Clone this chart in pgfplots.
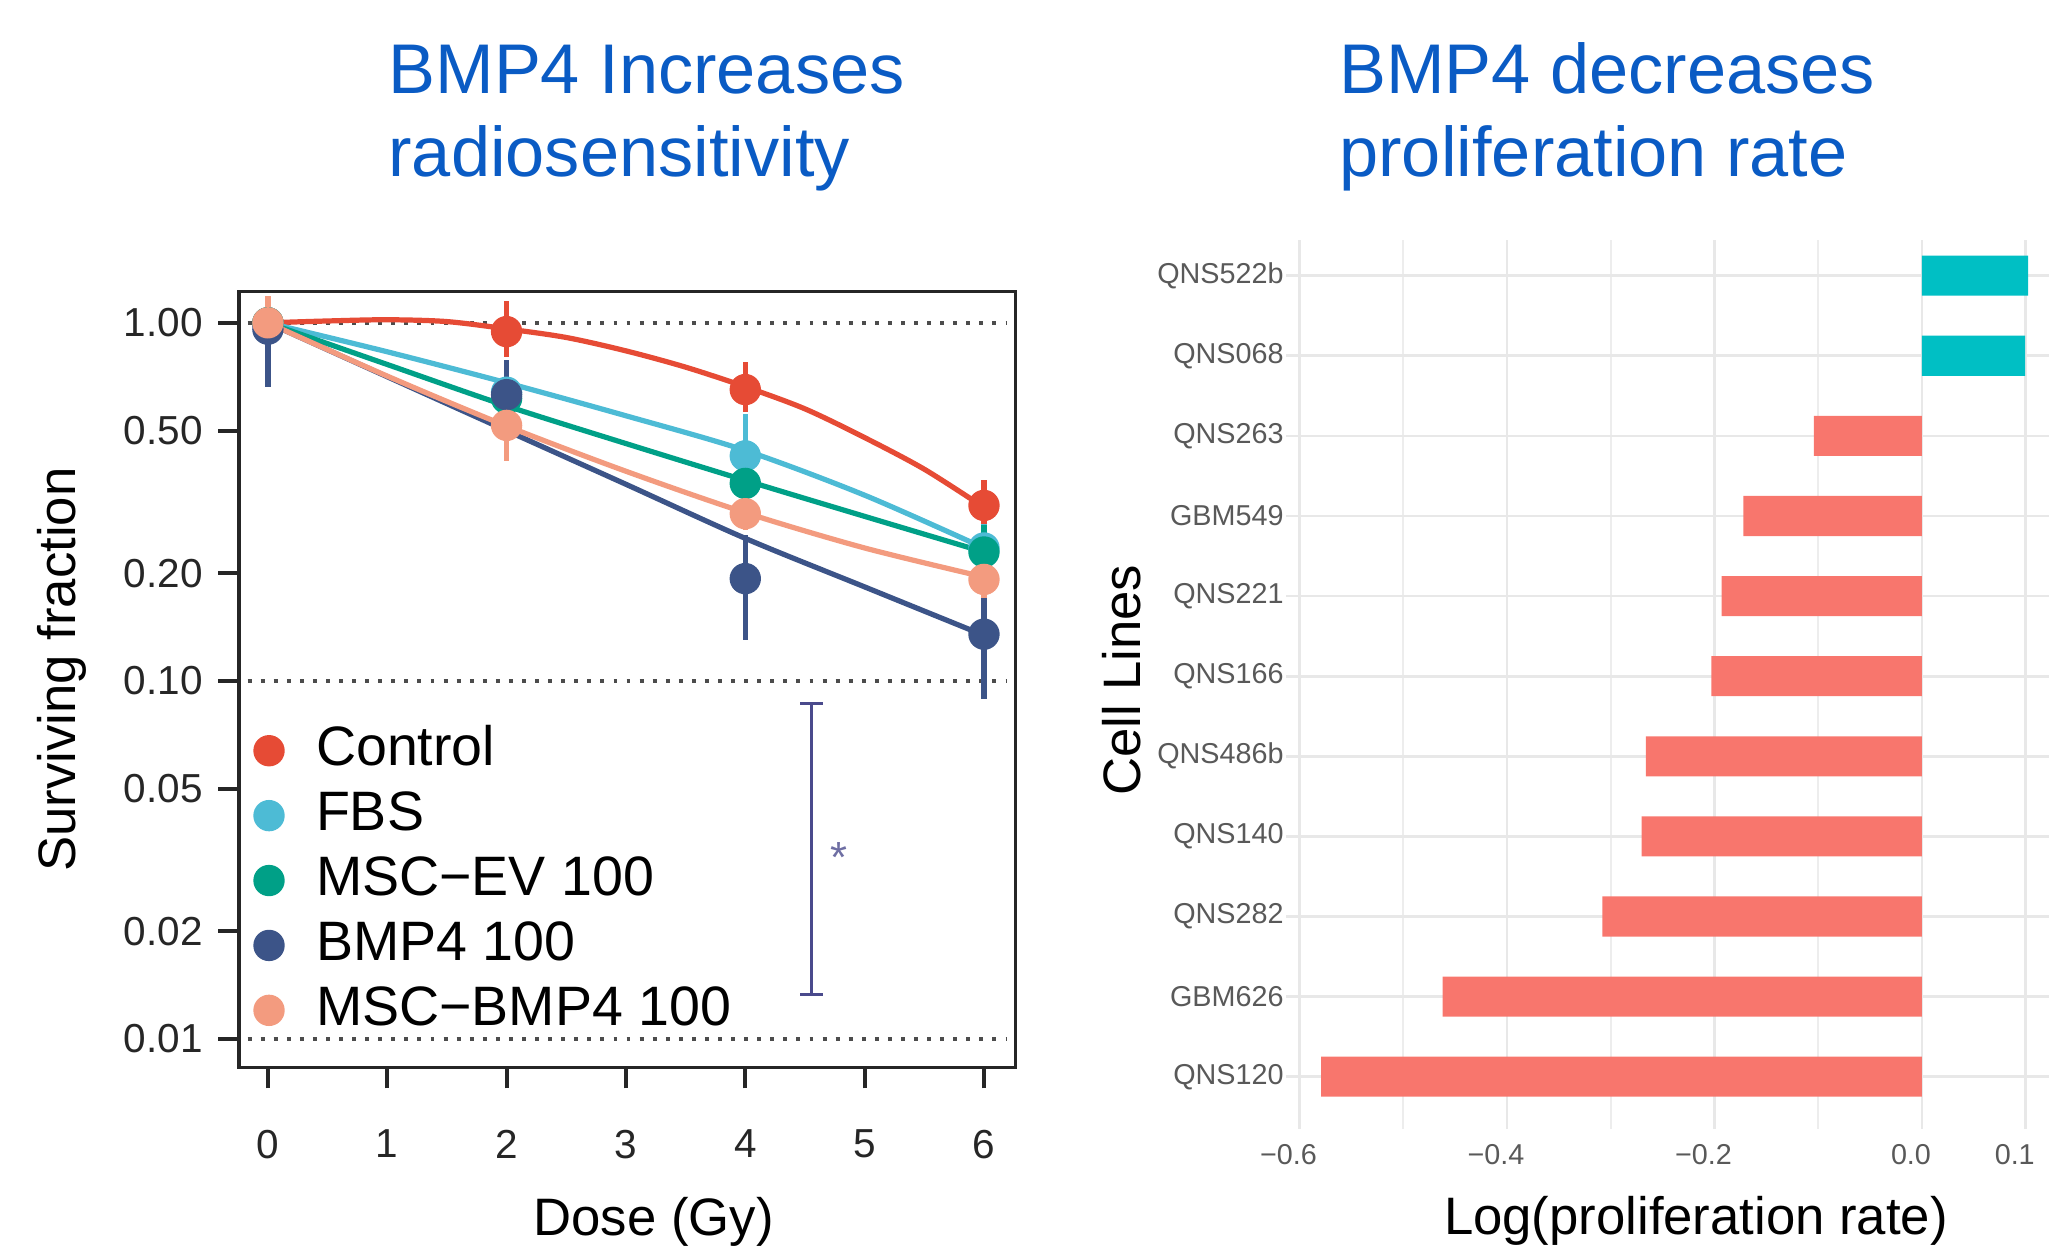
\documentclass[border=0pt]{standalone}
\usepackage{pgfplots}
\pgfplotsset{compat=1.18}
\usepackage{fontspec}
\setmainfont{Liberation Sans}

\definecolor{ctrl}{HTML}{E64B35}
\definecolor{fbs}{HTML}{4DBBD5}
\definecolor{mscev}{HTML}{00A087}
\definecolor{bmp}{HTML}{3C5488}
\definecolor{mscbmp}{HTML}{F39B7F}
\definecolor{barred}{HTML}{F8766D}
\definecolor{barteal}{HTML}{00BFC4}
\definecolor{titleblue}{HTML}{0A5BC4}
\definecolor{sigc}{HTML}{4A4A8C}

\begin{document}
\begin{tikzpicture}
\useasboundingbox (0,0) rectangle (470.4pt,288pt);
\clip (0,0) rectangle (470.4pt,288pt);

% titles
\node[anchor=base west, inner sep=0pt, text=titleblue, font=\fontsize{16.15}{19}\selectfont] at (89pt,266.6pt) {BMP4 Increases};
\node[anchor=base west, inner sep=0pt, text=titleblue, font=\fontsize{16.15}{19}\selectfont] at (89pt,247.5pt) {radiosensitivity};
\node[anchor=base west, inner sep=0pt, text=titleblue, font=\fontsize{16.15}{19}\selectfont] at (307.3pt,266.6pt) {BMP4 decreases};
\node[anchor=base west, inner sep=0pt, text=titleblue, font=\fontsize{16.15}{19}\selectfont] at (307.3pt,247.5pt) {proliferation rate};

% left: survival curves
\begin{axis}[
  at={(54.9pt,42.9pt)}, anchor=south west,
  scale only axis, width=178.2pt, height=178.2pt,
  ymode=log, log basis y=10,
  xmin=-0.241, xmax=6.263, ymin=0.00831, ymax=1.224,
  xtick={0,1,2,3,4,5,6},
  ytick={0.01,0.02,0.05,0.1,0.2,0.5,1},
  yticklabels={0.01,0.02,0.05,0.10,0.20,0.50,1.00},
  yminorticks=false,
  tick pos=left, tick align=outside, major tick length=4.8pt,
  tick style={black!85, line width=0.9pt},
  axis line style={black!85, line width=0.8pt},
  ticklabel style={font=\fontsize{9.3}{11}\selectfont, text=black!85},
  /pgf/number format/assume math mode=true,
  xticklabel style={yshift=-6pt},
  xlabel={Dose (Gy)}, ylabel={Surviving fraction},
  label style={font=\fontsize{12.1}{14}\selectfont},
  xlabel style={at={(axis description cs:0.534,0)}, anchor=center, yshift=-35.5pt},
  ylabel style={at={(axis description cs:-0.229,0.513)}, anchor=center},
  clip=false,
  legend cell align=left,
  legend style={at={(axis description cs:0.0183,0.4436)}, anchor=north west,
    draw=none, fill=none, inner sep=0pt,
    font=\fontsize{12.75}{14}\selectfont,
    nodes={inner sep=0pt, text height=9.6pt, text depth=2.6pt},
    row sep=2.7pt, column sep=7.4pt},
]
% reference lines
\addplot[forget plot, black!70, line width=0.8pt, dash pattern=on 0.9pt off 2.1pt] coordinates {(-0.17,1) (6.19,1)};
\addplot[forget plot, black!70, line width=0.8pt, dash pattern=on 0.9pt off 2.1pt] coordinates {(-0.17,0.1) (6.19,0.1)};
\addplot[forget plot, black!70, line width=0.8pt, dash pattern=on 0.9pt off 2.1pt] coordinates {(-0.17,0.01) (6.19,0.01)};

% fitted curves
\addplot[forget plot, smooth, ctrl, line width=1.2pt] coordinates {
  (0,1) (0.5,1.012) (1,1.02) (1.5,1.008) (2,0.962) (2.5,0.91) (3,0.835) (3.5,0.752) (4,0.663) (4.5,0.575) (5,0.478) (5.5,0.39) (6,0.305)};
\addplot[forget plot, smooth, fbs, line width=1.2pt] coordinates {
  (0,1) (1,0.83) (2,0.68) (3,0.55) (4,0.44) (5,0.33) (6,0.235)};
\addplot[forget plot, smooth, mscev, line width=1.2pt] coordinates {
  (0,1) (1,0.765) (2,0.586) (3,0.46) (4,0.363) (5,0.288) (6,0.229)};
\addplot[forget plot, smooth, bmp, line width=1.2pt] coordinates {
  (0,1) (1,0.707) (2,0.5) (3,0.354) (4,0.25) (5,0.183) (6,0.134)};
\addplot[forget plot, smooth, mscbmp, line width=1.2pt] coordinates {
  (0,1) (1,0.71) (2,0.515) (3,0.385) (4,0.295) (5,0.235) (6,0.195)};

% points with error bars
\addplot[only marks, mark=*, mark size=3.4pt, ctrl,
  error bars/.cd, y dir=both, y explicit, error mark=none,
  error bar style={line width=1.2pt, ctrl}] coordinates {
  (0,1) += (0,0.08) -= (0,0.07)
  (2,0.945) += (0,0.205) -= (0,0.14)
  (4,0.651) += (0,0.126) -= (0,0.086)
  (6,0.309) += (0,0.056) -= (0,0.036)};
\addlegendentry{Control}
\addplot[only marks, mark=*, mark size=3.4pt, fbs,
  error bars/.cd, y dir=both, y explicit, error mark=none,
  error bar style={line width=1.2pt, fbs}] coordinates {
  (0,1) += (0,0.06) -= (0,0.06)
  (2,0.64) += (0,0.08) -= (0,0.08)
  (4,0.425) += (0,0.13) -= (0,0.087)
  (6,0.235) += (0,0.04) -= (0,0.03)};
\addlegendentry{FBS}
\addplot[only marks, mark=*, mark size=3.4pt, mscev,
  error bars/.cd, y dir=both, y explicit, error mark=none,
  error bar style={line width=1.2pt, mscev}] coordinates {
  (0,1) += (0,0.05) -= (0,0.05)
  (2,0.615) += (0,0.06) -= (0,0.06)
  (4,0.356) += (0,0.055) -= (0,0.046)
  (6,0.229) += (0,0.044) -= (0,0.034)};
\addlegendentry{MSC−EV 100}
\addplot[only marks, mark=*, mark size=3.4pt, bmp,
  error bars/.cd, y dir=both, y explicit, error mark=none,
  error bar style={line width=1.2pt, bmp}] coordinates {
  (0,0.96) += (0,0.12) -= (0,0.30)
  (2,0.63) += (0,0.16) -= (0,0.113)
  (4,0.193) += (0,0.062) -= (0,0.063)
  (6,0.135) += (0,0.044) -= (0,0.046)};
\addlegendentry{BMP4 100}
\addplot[only marks, mark=*, mark size=3.4pt, mscbmp,
  error bars/.cd, y dir=both, y explicit, error mark=none,
  error bar style={line width=1.2pt, mscbmp}] coordinates {
  (0,1) += (0,0.19) -= (0,0.12)
  (2,0.517) += (0,0.123) -= (0,0.107)
  (4,0.293) += (0,0.035) -= (0,0.03)
  (6,0.192) += (0,0.028) -= (0,0.022)};
\addlegendentry{MSC−BMP4 100}

% significance bracket
\draw[sigc, line width=0.8pt] (axis cs:4.555,0.0865) -- (axis cs:4.555,0.0133);
\draw[sigc, line width=0.8pt] (axis cs:4.462,0.0865) -- (axis cs:4.648,0.0865);
\draw[sigc, line width=0.8pt] (axis cs:4.462,0.0133) -- (axis cs:4.648,0.0133);
\node[text=sigc!80, font=\fontsize{10}{10}\selectfont, inner sep=0pt] at (axis cs:4.787,0.0322) {*};
\end{axis}

% right: proliferation bars
\begin{axis}[
  at={(295.2pt,28.8pt)}, anchor=south west,
  scale only axis, width=178.65pt, height=204pt,
  xmin=-0.613, xmax=0.137, ymin=0.347, ymax=11.44,
  axis line style={draw=none},
  tick style={draw=none}, major tick length=0pt,
  xtick={-0.6,-0.4,-0.2,0,0.1},
  xticklabels={−0.6,−0.4,−0.2,0.0,0.1},
  minor xtick={-0.5,-0.3,-0.1},
  ytick={1,2,3,4,5,6,7,8,9,10,11},
  yticklabels={QNS120,GBM626,QNS282,QNS140,QNS486b,QNS166,QNS221,GBM549,QNS263,QNS068,QNS522b},
  grid=both,
  major grid style={color=black!9, line width=0.6pt},
  minor grid style={color=black!7, line width=0.45pt},
  ticklabel style={font=\fontsize{6.6}{8}\selectfont, text=black!65},
  xticklabel style={xshift=-2.5pt},
  yticklabel style={xshift=3pt},
  xlabel={Log(proliferation rate)}, ylabel={Cell Lines},
  label style={font=\fontsize{12.1}{14}\selectfont},
  xlabel style={at={(axis description cs:0.527,0)}, anchor=center, yshift=-21pt},
  ylabel style={at={(axis description cs:-0.2116,0.505)}, anchor=center},
]
\addplot[xbar, bar width=0.5, bar shift=0pt, fill=barred, draw=none] coordinates {
  (-0.579,1) (-0.462,2) (-0.308,3) (-0.270,4) (-0.266,5) (-0.203,6) (-0.193,7) (-0.172,8) (-0.104,9)};
\addplot[xbar, bar width=0.5, bar shift=0pt, fill=barteal, draw=none] coordinates {
  (0.0995,10) (0.1025,11)};
\end{axis}
\end{tikzpicture}
\end{document}
